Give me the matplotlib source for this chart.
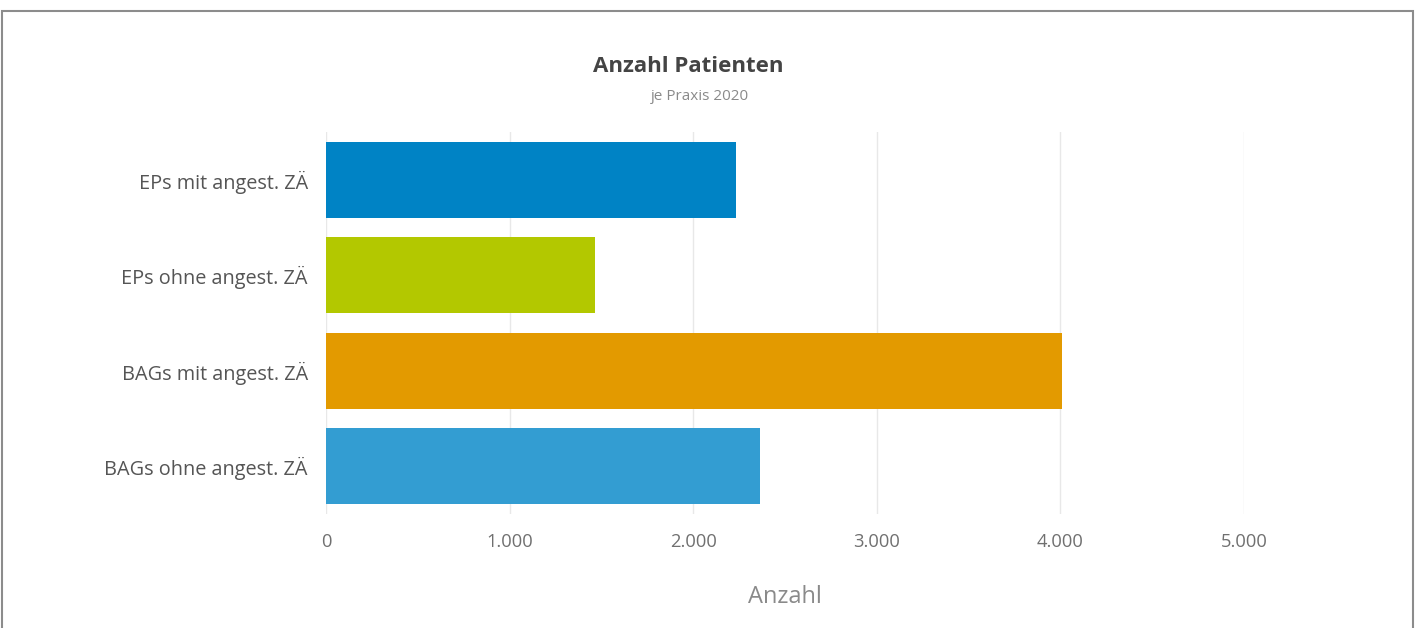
import matplotlib
matplotlib.use("Agg")
import matplotlib.pyplot as plt
from matplotlib.patches import Rectangle
from matplotlib.ticker import FuncFormatter

plt.rcParams['font.family'] = ['Open Sans', 'DejaVu Sans']

categories = ["EPs mit angest. ZÄ", "EPs ohne angest. ZÄ",
              "BAGs mit angest. ZÄ", "BAGs ohne angest. ZÄ"]
values = [2235, 1463, 4008, 2362]
colors = ["#0083C5", "#B3C800", "#E39A00", "#339DD2"]
x_ticks = [0, 1000, 2000, 3000, 4000, 5000]

W, H = 1416, 628
fig = plt.figure(figsize=(W / 100, H / 100), dpi=100)
fig.patch.set_facecolor("white")

# outer frame
fig.patches.append(Rectangle((2 / W, -0.01), 1411 / W, (H - 11) / H + 0.01,
                             transform=fig.transFigure, fill=False,
                             edgecolor="#8c8c8c", linewidth=1.5))

ax = fig.add_axes([326 / W, (H - 514) / H, (1244 - 326) / W, 382 / H])
ypos = list(range(len(categories)))
ax.barh(ypos, values, height=0.8, color=colors, zorder=3)
ax.set_ylim(len(categories) - 0.5, -0.5)
ax.set_xlim(0, 5000)
ax.set_yticks(ypos)
ax.set_yticklabels(categories)
ax.set_xticks(x_ticks)
ax.xaxis.set_major_formatter(FuncFormatter(lambda v, p: f"{int(v):,}".replace(",", ".")))
ax.grid(axis="x", color="#e8e8e8", linewidth=1, zorder=0)
for s in ax.spines.values():
    s.set_visible(False)
ax.tick_params(axis="both", length=0)
ax.tick_params(axis="y", pad=13, labelsize=14.3, labelcolor="#555555")
ax.tick_params(axis="x", pad=14, labelsize=13.2, labelcolor="#707070")

fig.text(785 / W, 1 - 597 / H, "Anzahl", ha="center", va="center",
         fontsize=17, color="#8a8a8a")
fig.text(688 / W, 1 - 72 / H, "Anzahl Patienten", ha="center", va="baseline",
         fontsize=16, fontweight="bold", color="#444444")
fig.text(700 / W, 1 - 100 / H, "je Praxis 2020", ha="center", va="baseline",
         fontsize=11, color="#8a8a8a")

fig.savefig("out.png", dpi=100)
